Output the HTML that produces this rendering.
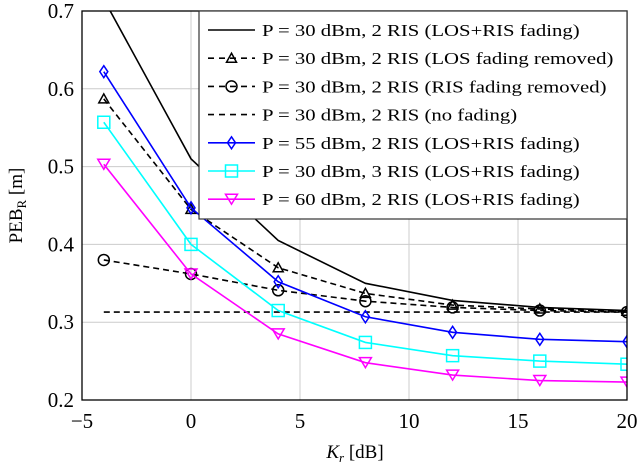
<!DOCTYPE html>
<html><head><meta charset="utf-8"><style>
body{margin:0;background:#fff}
svg text{font-family:"Liberation Serif",serif;fill:#000}
</style></head><body>
<svg id="c" width="640" height="468" xmlns="http://www.w3.org/2000/svg"></svg>
<script>
const xs=[-4,0,4,8,12,16,20];
const seriesSolid=[0.715,0.51,0.405,0.35,0.328,0.319,0.315];
const seriesTri=[0.587,0.445,0.37,0.337,0.322,0.317,0.314];
const seriesCirc=[0.38,0.362,0.341,0.327,0.319,0.315,0.313];
const seriesNoFade=[0.313,0.313,0.313,0.313,0.313,0.313,0.313];
const seriesBlue=[0.622,0.447,0.352,0.307,0.287,0.278,0.275];
const seriesCyan=[0.557,0.4,0.315,0.274,0.257,0.25,0.246];
const seriesMag=[0.503,0.362,0.285,0.248,0.232,0.225,0.223];
const xTicks=[-5,0,5,10,15,20];
const xTickLabels=["\u22125","0","5","10","15","20"];
const yTicks=[0.2,0.3,0.4,0.5,0.6,0.7];
const yTickLabels=["0.2","0.3","0.4","0.5","0.6","0.7"];
const legendLabels=["P = 30 dBm, 2 RIS (LOS+RIS fading)","P = 30 dBm, 2 RIS (LOS fading removed)","P = 30 dBm, 2 RIS (RIS fading removed)","P = 30 dBm, 2 RIS (no fading)","P = 55 dBm, 2 RIS (LOS+RIS fading)","P = 30 dBm, 3 RIS (LOS+RIS fading)","P = 60 dBm, 2 RIS (LOS+RIS fading)"];

const L=82,R=627,T=11,B=400;
const X=v=>L+(v+5)/25*(R-L);
const Y=v=>B-(v-0.2)/0.5*(B-T);
const svg=document.getElementById('c');
const NS="http://www.w3.org/2000/svg";
function mk(tag,at,parent){const e=document.createElementNS(NS,tag);for(const k in at)e.setAttribute(k,at[k]);(parent||svg).appendChild(e);return e;}
const defs=mk('defs',{});const cp=mk('clipPath',{id:'pc'},defs);mk('rect',{x:L,y:T,width:R-L,height:B-T},cp);
xTicks.forEach((t,i)=>{const g=mk('line',{x1:X(t),x2:X(t),y1:T,y2:B,stroke:'#ccc','stroke-width':1});

const tx=mk('text',{x:X(t),y:B+28,'text-anchor':'middle','font-size':21});tx.textContent=xTickLabels[i];
});
yTicks.forEach((t,i)=>{const g=mk('line',{x1:L,x2:R,y1:Y(t),y2:Y(t),stroke:'#ccc','stroke-width':1});

const tx=mk('text',{x:L-8,y:Y(t)+7,'text-anchor':'end','font-size':21});tx.textContent=yTickLabels[i];
});
function marker(type,cx,cy,col,g){
 if(type==='tri')mk('polygon',{points:`${cx},${cy-5} ${cx-5},${cy+4} ${cx+5},${cy+4}`,fill:'none',stroke:col,'stroke-width':1.5},g);
 if(type==='circ')mk('circle',{cx,cy,r:5.5,fill:'none',stroke:col,'stroke-width':1.5},g);
 if(type==='dia')mk('polygon',{points:`${cx},${cy-6} ${cx+4},${cy} ${cx},${cy+6} ${cx-4},${cy}`,fill:'none',stroke:col,'stroke-width':1.5},g);
 if(type==='sq')mk('rect',{x:cx-6,y:cy-6,width:12,height:12,fill:'none',stroke:col,'stroke-width':1.5},g);
 if(type==='itri')mk('polygon',{points:`${cx-6},${cy-5} ${cx+6},${cy-5} ${cx},${cy+5}`,fill:'none',stroke:col,'stroke-width':1.5},g);
}
const S=[
 {d:seriesSolid,c:'#000',dash:'',m:null,n:'series-30dbm-2ris-los-ris-fading'},
 {d:seriesTri,c:'#000',dash:'6,4',m:'tri',n:'series-30dbm-2ris-los-fading-removed'},
 {d:seriesCirc,c:'#000',dash:'6,4',m:'circ',n:'series-30dbm-2ris-ris-fading-removed'},
 {d:seriesNoFade,c:'#000',dash:'6,4',m:null,n:'series-30dbm-2ris-no-fading'},
 {d:seriesBlue,c:'#0000ff',dash:'',m:'dia',n:'series-55dbm-2ris'},
 {d:seriesCyan,c:'#00ffff',dash:'',m:'sq',n:'series-30dbm-3ris'},
 {d:seriesMag,c:'#ff00ff',dash:'',m:'itri',n:'series-60dbm-2ris'}];
S.forEach(s=>{const g=mk('g',{'clip-path':'url(#pc)'});
 
 mk('polyline',{points:s.d.map((v,i)=>X(xs[i])+','+Y(v)).join(' '),fill:'none',stroke:s.c,'stroke-width':1.6,'stroke-dasharray':s.dash},g);
 if(s.m)s.d.forEach((v,i)=>marker(s.m,X(xs[i]),Y(v),s.c,g));});
const ax=mk('rect',{x:L,y:T,width:R-L,height:B-T,fill:'none',stroke:'#000','stroke-width':1.3});

const lg=mk('g',{});
mk('rect',{x:199,y:11,width:428,height:208,fill:'#fff',stroke:'#333','stroke-width':1.2},lg);
S.forEach((s,i)=>{const y=30+i*28.2;const e=mk('g',{},lg);
 
 mk('line',{x1:208,x2:255,y1:y,y2:y,stroke:s.c,'stroke-width':1.6,'stroke-dasharray':s.dash?'6,5':''},e);
 if(s.m)marker(s.m,231.5,y,s.c,e);
 const t=mk('text',{x:262,y:y+6,'font-size':17},e);t.textContent=legendLabels[i];
 const w=t.getComputedTextLength();
 t.setAttribute('textLength',w*1.22);t.setAttribute('lengthAdjust','spacingAndGlyphs');});
const xl=mk('text',{x:355,y:458,'text-anchor':'middle','font-size':19});
xl.innerHTML='<tspan font-style="italic">K</tspan><tspan font-style="italic" font-size="13" dy="4">r</tspan><tspan dy="-4"> [dB]</tspan>';

const yl=mk('text',{x:0,y:0,'text-anchor':'middle','font-size':19,transform:`translate(22,${(T+B)/2}) rotate(-90)`});
yl.innerHTML='PEB<tspan font-size="13" dy="4">R</tspan><tspan dy="-4"> [m]</tspan>';

</script>
</body></html>
